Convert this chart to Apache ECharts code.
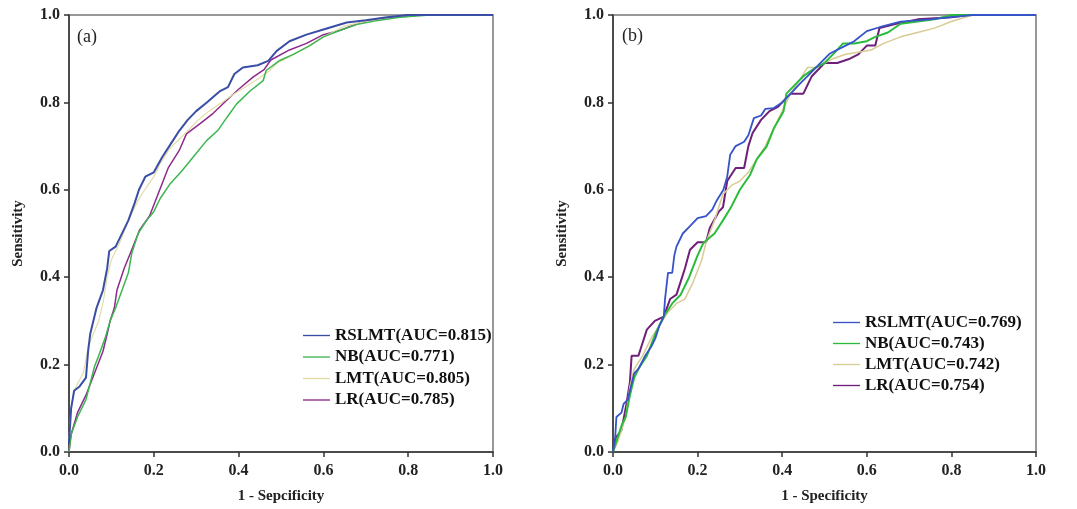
<!DOCTYPE html>
<html>
<head>
<meta charset="utf-8">
<script src="https://cdn.jsdelivr.net/npm/echarts@6/dist/echarts.min.js"></script>
<style>
html,body{margin:0;padding:0;background:#fff;}
#chart{width:1077px;height:509px;}
</style>
</head>
<body>
<div id="chart"></div>
<script>
// ---- data: [1 - specificity, sensitivity] ----
var panelLabels = ['(a)', '(b)'];
var xTitles = ['1 - Sepcificity', '1 - Specificity'];
var yTitle = 'Sensitivity';
var namesA = ['RSLMT(AUC=0.815)', 'NB(AUC=0.771)', 'LMT(AUC=0.805)', 'LR(AUC=0.785)'];
var namesB = ['RSLMT(AUC=0.769)', 'NB(AUC=0.743)', 'LMT(AUC=0.742)', 'LR(AUC=0.754)'];

var a_RSLMT = [[0,0.02],[0.005,0.1],[0.012,0.14],[0.025,0.15],[0.04,0.17],[0.045,0.23],[0.05,0.27],[0.065,0.33],[0.08,0.37],[0.09,0.42],[0.095,0.46],[0.11,0.47],[0.12,0.49],[0.14,0.53],[0.155,0.57],[0.165,0.6],[0.18,0.63],[0.2,0.64],[0.22,0.675],[0.24,0.705],[0.26,0.735],[0.28,0.76],[0.3,0.78],[0.325,0.8],[0.355,0.825],[0.375,0.835],[0.39,0.865],[0.41,0.88],[0.445,0.885],[0.47,0.895],[0.49,0.918],[0.52,0.94],[0.56,0.955],[0.6,0.967],[0.655,0.983],[0.7,0.988],[0.75,0.995],[0.8,1.0],[1,1]];
var a_NB = [[0,0.0],[0.005,0.04],[0.02,0.08],[0.04,0.12],[0.06,0.195],[0.07,0.22],[0.085,0.26],[0.097,0.3],[0.11,0.33],[0.125,0.37],[0.14,0.41],[0.148,0.455],[0.163,0.5],[0.183,0.53],[0.2,0.55],[0.215,0.58],[0.238,0.613],[0.265,0.642],[0.293,0.675],[0.324,0.712],[0.352,0.737],[0.372,0.765],[0.395,0.796],[0.427,0.826],[0.458,0.85],[0.465,0.873],[0.497,0.896],[0.529,0.91],[0.568,0.93],[0.6,0.95],[0.64,0.965],[0.678,0.978],[0.72,0.986],[0.78,0.995],[0.85,1],[1,1]];
var a_LMT = [[0,0.03],[0.005,0.1],[0.014,0.144],[0.034,0.182],[0.046,0.243],[0.07,0.3],[0.081,0.345],[0.09,0.4],[0.1,0.44],[0.12,0.48],[0.14,0.53],[0.16,0.57],[0.175,0.595],[0.2,0.63],[0.215,0.66],[0.238,0.695],[0.27,0.725],[0.305,0.76],[0.33,0.78],[0.36,0.8],[0.39,0.82],[0.44,0.85],[0.47,0.87],[0.49,0.889],[0.55,0.92],[0.6,0.95],[0.65,0.975],[0.7,0.985],[0.78,0.995],[0.85,1],[1,1]];
var a_LR = [[0,0.0],[0.005,0.04],[0.02,0.09],[0.04,0.13],[0.06,0.18],[0.08,0.23],[0.09,0.27],[0.097,0.3],[0.107,0.33],[0.113,0.37],[0.13,0.42],[0.148,0.463],[0.167,0.509],[0.19,0.54],[0.214,0.6],[0.234,0.65],[0.26,0.69],[0.277,0.728],[0.31,0.752],[0.34,0.775],[0.372,0.805],[0.4,0.83],[0.434,0.858],[0.46,0.875],[0.476,0.897],[0.52,0.92],[0.56,0.935],[0.6,0.955],[0.64,0.965],[0.68,0.98],[0.72,0.99],[0.8,1],[1,1]];

var b_RSLMT = [[0,0.0],[0.005,0.03],[0.008,0.08],[0.02,0.09],[0.025,0.11],[0.035,0.12],[0.045,0.16],[0.05,0.18],[0.06,0.19],[0.076,0.22],[0.09,0.24],[0.1,0.26],[0.11,0.29],[0.12,0.31],[0.123,0.35],[0.13,0.41],[0.14,0.41],[0.145,0.45],[0.15,0.47],[0.165,0.5],[0.182,0.517],[0.2,0.535],[0.22,0.54],[0.235,0.555],[0.245,0.575],[0.261,0.6],[0.27,0.63],[0.277,0.68],[0.29,0.7],[0.31,0.71],[0.32,0.725],[0.333,0.764],[0.35,0.77],[0.36,0.785],[0.38,0.787],[0.4,0.8],[0.42,0.82],[0.442,0.843],[0.46,0.86],[0.49,0.89],[0.513,0.912],[0.55,0.93],[0.57,0.94],[0.6,0.963],[0.63,0.972],[0.68,0.985],[0.75,0.99],[0.8,0.995],[0.85,1],[1,1]];
var b_NB = [[0,0],[0.01,0.03],[0.02,0.06],[0.03,0.08],[0.04,0.13],[0.05,0.17],[0.06,0.19],[0.08,0.22],[0.1,0.27],[0.12,0.31],[0.14,0.34],[0.16,0.36],[0.18,0.4],[0.2,0.45],[0.214,0.479],[0.24,0.5],[0.26,0.53],[0.28,0.562],[0.3,0.6],[0.324,0.634],[0.34,0.67],[0.363,0.699],[0.38,0.74],[0.403,0.779],[0.41,0.82],[0.43,0.84],[0.45,0.86],[0.48,0.88],[0.5,0.89],[0.52,0.91],[0.544,0.935],[0.57,0.935],[0.6,0.94],[0.62,0.95],[0.65,0.96],[0.68,0.98],[0.72,0.985],[0.76,0.99],[0.8,1],[1,1]];
var b_LMT = [[0,0],[0.01,0.02],[0.02,0.05],[0.03,0.08],[0.04,0.15],[0.05,0.19],[0.07,0.22],[0.09,0.26],[0.11,0.29],[0.13,0.32],[0.15,0.34],[0.17,0.35],[0.19,0.39],[0.21,0.44],[0.22,0.48],[0.24,0.53],[0.25,0.56],[0.26,0.59],[0.28,0.61],[0.3,0.62],[0.32,0.64],[0.34,0.67],[0.36,0.7],[0.38,0.74],[0.4,0.78],[0.42,0.82],[0.44,0.85],[0.46,0.88],[0.48,0.88],[0.5,0.89],[0.52,0.9],[0.55,0.91],[0.58,0.915],[0.61,0.92],[0.64,0.935],[0.68,0.95],[0.72,0.96],[0.76,0.97],[0.8,0.985],[0.85,1],[1,1]];
var b_LR = [[0,0],[0.005,0.03],[0.02,0.05],[0.03,0.1],[0.04,0.16],[0.044,0.22],[0.06,0.22],[0.07,0.25],[0.08,0.28],[0.099,0.3],[0.12,0.31],[0.135,0.35],[0.15,0.36],[0.16,0.39],[0.17,0.42],[0.182,0.463],[0.2,0.48],[0.22,0.48],[0.229,0.513],[0.25,0.55],[0.26,0.56],[0.27,0.62],[0.29,0.65],[0.31,0.65],[0.32,0.7],[0.33,0.73],[0.35,0.76],[0.37,0.78],[0.39,0.79],[0.4,0.8],[0.42,0.82],[0.45,0.82],[0.47,0.86],[0.5,0.89],[0.53,0.89],[0.56,0.9],[0.58,0.91],[0.6,0.93],[0.62,0.93],[0.63,0.97],[0.67,0.98],[0.72,0.99],[0.8,0.995],[0.84,1],[1,1]];

var colorsA = ['#3a4ea6', '#3cb650', '#e3dca6', '#8e2a8c'];
var colorsB = ['#3653c8', '#2bbb3c', '#d9cb94', '#6e1f78'];
var widthsA = [2, 1.5, 1.2, 1.5];
var widthsB = [1.8, 2, 1.5, 2];

var chart = echarts.init(document.getElementById('chart'), null, {renderer: 'canvas'});
var serif = '"Liberation Serif", "DejaVu Serif", serif';
var tickFont = {fontFamily: serif, fontWeight: 'bold', fontSize: 16, color: '#222'};

function xAxisDef(gi, title) {
  return {
    type: 'value', gridIndex: gi, min: 0, max: 1, interval: 0.2,
    name: title, nameLocation: 'middle', nameGap: 37,
    nameTextStyle: {fontFamily: serif, fontWeight: 'bold', fontSize: 15, color: '#222'},
    axisLine: {show: true, lineStyle: {color: '#333', width: 1.5}},
    axisTick: {show: true, length: 5, lineStyle: {color: '#333', width: 1.5}},
    splitLine: {show: false},
    axisLabel: Object.assign({margin: 11, formatter: function (v) { return v.toFixed(1); }}, tickFont)
  };
}
function yAxisDef(gi) {
  return {
    type: 'value', gridIndex: gi, min: 0, max: 1, interval: 0.2,
    name: yTitle, nameLocation: 'middle', nameGap: 43, nameRotate: 90,
    nameTextStyle: {fontFamily: serif, fontWeight: 'bold', fontSize: 15, color: '#222'},
    axisLine: {show: true, lineStyle: {color: '#333', width: 1.5}},
    axisTick: {show: true, length: 5, lineStyle: {color: '#333', width: 1.5}},
    splitLine: {show: false},
    axisLabel: Object.assign({margin: 9, formatter: function (v) { return v.toFixed(1); }}, tickFont)
  };
}

var series = [];
var dataA = [a_RSLMT, a_NB, a_LMT, a_LR];
var dataB = [b_RSLMT, b_NB, b_LMT, b_LR];
for (var i = 0; i < 4; i++) {
  series.push({name: namesA[i], type: 'line', xAxisIndex: 0, yAxisIndex: 0, data: dataA[i],
    symbol: 'none', color: colorsA[i], lineStyle: {color: colorsA[i], width: widthsA[i]}, animation: false, z: 4 - i});
}
for (var j = 0; j < 4; j++) {
  series.push({name: namesB[j], type: 'line', xAxisIndex: 1, yAxisIndex: 1, data: dataB[j],
    symbol: 'none', color: colorsB[j], lineStyle: {color: colorsB[j], width: widthsB[j]}, animation: false, z: 4 - j});
}

var legendText = {fontFamily: serif, fontWeight: 'bold', fontSize: 17, color: '#111'};

chart.setOption({
  backgroundColor: '#fff',
  animation: false,
  grid: [
    {left: 69, top: 15, width: 424, height: 438, show: true, borderColor: '#777', borderWidth: 1.5, backgroundColor: 'transparent'},
    {left: 613, top: 15, width: 423, height: 438, show: true, borderColor: '#777', borderWidth: 1.5, backgroundColor: 'transparent'}
  ],
  xAxis: [xAxisDef(0, xTitles[0]), xAxisDef(1, xTitles[1])],
  yAxis: [yAxisDef(0), yAxisDef(1)],
  legend: [
    {data: namesA, orient: 'vertical', left: 298, top: 322, itemWidth: 27, itemHeight: 10, itemGap: 4.5,
      textStyle: legendText, icon: 'path://M0,4.3 L28,4.3 L28,5.7 L0,5.7 Z', selectedMode: false},
    {data: namesB, orient: 'vertical', left: 828, top: 309, itemWidth: 27, itemHeight: 10, itemGap: 4,
      textStyle: legendText, icon: 'path://M0,4.3 L28,4.3 L28,5.7 L0,5.7 Z', selectedMode: false}
  ],
  graphic: [
    {type: 'text', left: 77, top: 28, style: {text: panelLabels[0], font: '18px ' + serif, fill: '#222'}},
    {type: 'text', left: 622, top: 27, style: {text: panelLabels[1], font: '18px ' + serif, fill: '#222'}}
  ],
  series: series
});
</script>
</body>
</html>
